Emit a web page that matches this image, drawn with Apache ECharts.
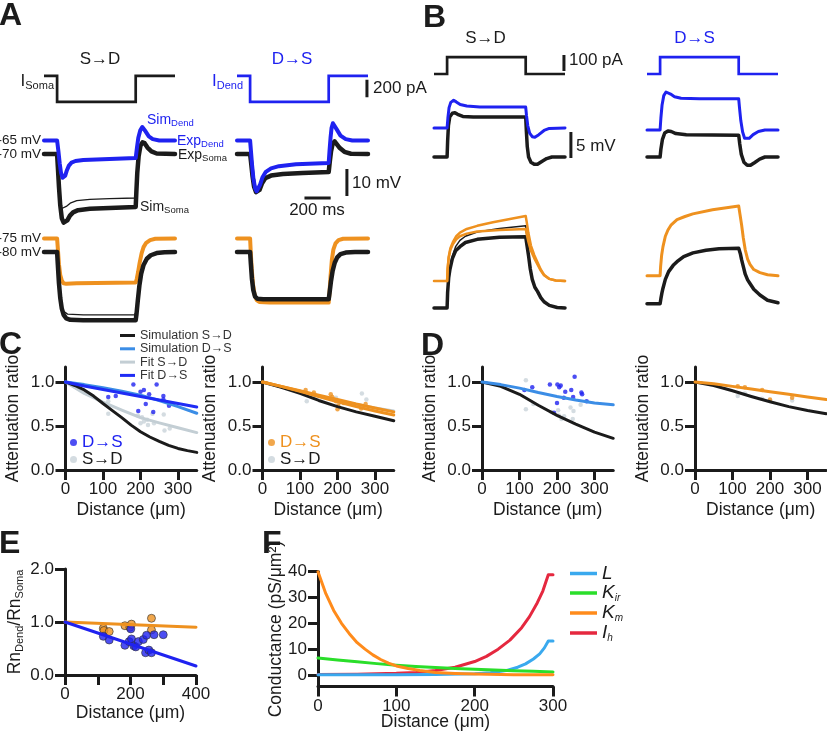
<!DOCTYPE html>
<html><head><meta charset="utf-8">
<script src="https://cdn.jsdelivr.net/npm/echarts@6/dist/echarts.min.js"></script>
<style>html,body{margin:0;padding:0;background:#fff}#c{width:827px;height:736px}</style>
</head><body><div id="c"></div>
<script>
const FONT = "'Liberation Sans', Arial, Helvetica, sans-serif";
const BLK='#1b1b1b', BLUE='#1f22f0', ORANGE='#ee911f', LBLUE='#3b8de6', LGRAY='#c3ced4', GDOT='#c9d3d9', FITBLUE='#1f2cf5';
const FL='#3aa9ee', FKIR='#2ade2a', FKM='#ff8b1b', FIH='#e5283f';

// ---------- Panel A (time ms, current pA, voltage mV)
const aCurrentStep = [[0,0],[100,0],[100,-300],[700,-300],[700,0],[1000,0]];
const aSD_expDend = [[0,-65],[100,-65],[110,-69],[120,-73.5],[130,-77],[142,-78.8],[152,-79],[162,-78],[175,-76],[190,-74.3],[210,-73.2],[240,-72.6],[300,-72.2],[400,-72],[550,-71.8],[700,-71.5],[710,-67.5],[720,-64],[735,-61.2],[750,-60],[760,-60.2],[775,-61.6],[800,-63.5],[830,-64.5],[880,-65],[1000,-65]];
const aSD_expSoma = [[0,-70],[100,-70],[106,-75],[114,-82],[124,-89],[136,-93.8],[150,-95.4],[162,-95.6],[178,-94.6],[198,-92.8],[222,-91.6],[260,-90.8],[350,-90.3],[500,-90],[700,-89.6],[705,-84],[712,-77],[722,-71],[736,-67],[752,-65.7],[768,-66],[790,-67.6],[820,-69],[860,-69.8],[1000,-70]];
const aSD_simSoma = [[100,-70],[106,-75],[114,-82],[124,-87.5],[136,-90.2],[150,-90.4],[170,-89.4],[200,-88.2],[250,-87.3],[350,-86.8],[500,-86.5],[700,-86.3],[705,-82],[712,-76.5]];
const aDS_expDend = [[0,-65],[100,-65],[105,-68],[115,-74],[125,-79],[138,-82.6],[150,-83.8],[160,-83.6],[175,-81.5],[195,-78.6],[220,-76.6],[260,-75.3],[320,-74.5],[450,-73.8],[700,-73.3],[706,-69],[714,-64],[722,-60.3],[732,-58.6],[745,-59],[760,-60.8],[790,-63.2],[830,-64.5],[880,-65],[1000,-65]];
const aDS_expSoma = [[0,-70],[100,-70],[106,-72.5],[118,-78],[130,-82],[145,-84.1],[158,-84.4],[172,-83.3],[190,-81],[215,-79],[260,-78],[350,-77.4],[500,-77],[700,-76.7],[708,-73],[718,-69],[730,-66.2],[745,-65.3],[760,-66],[785,-67.8],[820,-69.2],[870,-69.9],[1000,-70]];
const aSD_lowDend = [[0,-75],[100,-75],[106,-79],[114,-84.5],[124,-88.5],[136,-90.6],[150,-91.6],[170,-91.8],[250,-91.6],[400,-91.5],[700,-91.3],[708,-90],[718,-87.5],[730,-84],[745,-80.5],[760,-78.2],[780,-76.6],[810,-75.6],[850,-75.1],[1000,-75]];
const aSD_lowSoma = [[0,-80],[100,-80],[106,-85],[114,-91.5],[124,-97],[136,-101],[150,-103.3],[170,-104.6],[200,-105.1],[300,-105.3],[700,-105.3],[706,-103],[716,-98],[728,-92.5],[742,-88],[760,-84.8],[785,-82.5],[815,-81.2],[860,-80.4],[920,-80.1],[1000,-80]];
const aSD_lowSim = [[100,-80],[106,-85],[114,-91.5],[124,-96.6],[136,-100],[150,-102],[180,-103],[300,-103.3],[700,-103.3],[706,-101],[714,-97]];
const aDS_lowDend = [[0,-75],[100,-75],[105,-80],[112,-86],[122,-92],[135,-96],[150,-97.8],[170,-98.5],[250,-98.7],[700,-98.7],[706,-95],[714,-89],[724,-83],[736,-79],[752,-76.8],[775,-75.6],[810,-75.1],[1000,-75]];
const aDS_lowSoma = [[0,-80],[100,-80],[106,-84.5],[114,-90],[124,-94],[138,-96.5],[155,-97.3],[200,-97.5],[700,-97.5],[707,-95],[717,-91],[730,-87],[746,-84],[765,-82],[790,-80.8],[830,-80.2],[900,-80],[1000,-80]];
const aBar200pA = [[992,-45],[992,-245]];
const aBar10mV = [[839,-75.6],[839,-85.6]];
const aBar200ms = [[515,-86.3],[715,-86.3]];

// ---------- Panel B (time ms, current pA, relative voltage mV)
const bCurrentStep = [[0,0],[100,0],[100,105],[700,105],[700,0],[1000,0]];
const bSD_upDend = [[0,5.6],[100,5.6],[106,7.5],[115,9.5],[128,10.5],[150,10.9],[170,10.6],[200,10.1],[250,9.8],[350,9.6],[700,9.6],[706,8],[716,6],[730,4.6],[750,3.9],[770,3.8],[800,4.3],[840,5.1],[880,5.5],[1000,5.6]];
const bSD_upSoma = [[0,0],[100,0],[104,3],[110,6],[120,7.7],[140,8.4],[160,8.5],[180,8.2],[220,7.8],[300,7.7],[700,7.7],[705,5],[712,2],[722,0],[740,-1],[765,-1.4],[790,-1.4],[820,-0.9],[860,-0.3],[900,0],[1000,0]];
const bDS_upDend = [[0,5.2],[100,5.2],[106,7.5],[115,10],[128,11.8],[145,12.5],[160,12.5],[180,12.1],[210,11.6],[260,11.3],[400,11.2],[700,11.2],[706,9.5],[716,7],[730,4.8],[745,3.6],[760,3.3],[780,3.6],[810,4.3],[850,4.9],[900,5.2],[1000,5.2]];
const bDS_upSoma = [[0,0],[100,0],[106,1.5],[118,3.4],[135,4.6],[160,5],[185,4.9],[220,4.5],[300,4.3],[700,4.2],[708,2.5],[720,0.5],[740,-1],[765,-1.6],[790,-1.6],[820,-1.1],[860,-0.4],[900,0],[1000,0]];
const bSD_lowDendA = [[0,5.2],[100,5.2],[104,7.5],[112,9.8],[125,11.5],[145,12.7],[170,13.8],[198,14.5],[250,15.2],[330,15.8],[450,16.5],[580,17.1],[700,17.7],[708,16.5],[720,14.5],[740,12],[765,10.2],[790,8.8],[815,7.4],[840,6.4],[880,5.6],[930,5.3],[1000,5.2]];
const bSD_lowDendB = [[100,5.2],[104,7.5],[112,9.6],[125,11.2],[145,12.3],[170,13.2],[198,13.8],[250,14.3],[330,14.7],[500,15],[700,15.2],[708,14.2],[720,12.8],[740,11],[765,9.6],[790,8.4],[815,7.2],[840,6.3],[880,5.6],[930,5.3],[1000,5.2]];
const bSD_lowSoma = [[0,0],[100,0],[104,3],[112,5.8],[122,7.5],[140,9.5],[165,11],[198,11.8],[240,12.6],[330,13.2],[500,13.6],[700,13.7],[710,12],[722,10],[735,7.5],[750,5.5],[770,4],[790,3.2],[815,2],[840,1.2],[880,0.5],[940,0.1],[1000,0]];
const bSD_lowSim = [[100,0],[104,3],[112,5.9],[122,7.8],[140,10],[165,11.8],[198,13],[240,13.8],[330,14.6],[500,15.3],[700,15.8],[710,13.5],[722,11]];
const bDS_lowDend = [[0,6.2],[100,6.2],[104,8],[112,10.2],[122,11.8],[140,13.8],[160,15],[185,16],[229,17],[290,17.6],[350,18.1],[500,18.9],[700,19.6],[710,18],[722,16],[735,13.5],[750,11.2],[768,9.4],[786,8.4],[815,7.4],[862,6.8],[920,6.4],[1000,6.2]];
const bDS_lowSoma = [[0,0.8],[100,0.8],[106,1.8],[114,2.9],[122,3.8],[140,5.5],[165,7],[200,8.2],[229,8.9],[280,9.9],[351,10.6],[450,11.1],[550,11.4],[700,11.5],[712,10.5],[722,9.3],[733,8.2],[750,6.5],[768,5.4],[786,4.7],[815,3.6],[862,2.5],[920,1.5],[1000,1]];
const bBar100pA = [[992,19],[992,119]];
const bBar5mV = [[1045,-0.2],[1045,4.8]];

// ---------- Panel C (distance µm, attenuation ratio)
const cL_simSD = [[0,1],[25,0.96],[50,0.91],[75,0.84],[100,0.755],[125,0.675],[150,0.595],[175,0.51],[200,0.435],[225,0.375],[250,0.325],[275,0.28],[300,0.245],[325,0.22],[350,0.2]];
const cL_fitSD = [[0,1],[50,0.87],[100,0.77],[150,0.68],[200,0.595],[250,0.535],[300,0.48],[350,0.425]];
const cL_simDS = [[0,1],[50,0.97],[100,0.935],[150,0.895],[200,0.85],[250,0.79],[300,0.72],[350,0.645]];
const cL_fitDS = [[0,1],[50,0.955],[100,0.915],[150,0.875],[200,0.835],[250,0.795],[300,0.755],[350,0.715]];
const cL_dotsDS = [[114,0.83],[134,0.84],[181,0.97],[194,0.67],[200,0.89],[209,0.91],[223,0.86],[214,0.75],[234,0.66],[243,0.97],[261,0.84],[261,0.8],[276,0.73]];
const cL_dotsSD = [[114,0.78],[114,0.64],[193,0.62],[200,0.53],[204,0.6],[209,0.55],[218,0.57],[220,0.51],[232,0.64],[236,0.53],[262,0.63],[264,0.45],[278,0.47]];
const cR_simSD = [[0,1],[50,0.94],[100,0.87],[150,0.79],[200,0.72],[250,0.66],[300,0.61],[350,0.56]];
const cR_fitSD = [[0,1],[50,0.945],[100,0.89],[150,0.84],[200,0.79],[250,0.745],[300,0.705],[350,0.67]];
const cR_simDS = [[0,1],[50,0.95],[100,0.895],[150,0.835],[200,0.775],[250,0.72],[300,0.67],[350,0.625]];
const cR_fitDS = [[0,1],[50,0.95],[100,0.9],[150,0.85],[200,0.8],[250,0.75],[300,0.705],[350,0.66]];
const cR_dotsDS = [[115,0.91],[137,0.88],[182,0.86],[186,0.83],[196,0.78],[200,0.69],[202,0.73],[217,0.76],[263,0.7],[275,0.75]];
const cR_dotsSD = [[118,0.78],[138,0.84],[196,0.82],[204,0.76],[218,0.76],[265,0.87],[277,0.8],[262,0.73]];

// ---------- Panel D
const dL_simDS = [[0,1],[50,0.97],[100,0.93],[150,0.88],[200,0.835],[250,0.795],[300,0.76],[350,0.74]];
const dL_simSD = [[0,1],[50,0.95],[100,0.86],[150,0.735],[200,0.62],[250,0.52],[300,0.43],[350,0.36]];
const dL_dotsDS = [[113,0.91],[134,0.94],[181,0.97],[201,0.97],[206,0.94],[210,0.96],[222,0.89],[238,0.91],[247,1.06],[243,0.83],[265,0.88],[267,0.86],[279,0.78],[218,0.82],[200,0.76],[192,0.65]];
const dL_dotsSD = [[117,1.02],[117,0.69],[137,0.75],[185,0.66],[203,0.68],[212,0.58],[219,0.61],[236,0.71],[244,0.67],[242,0.58],[263,0.74],[205,0.62]];
const dR_simDS = [[0,1],[50,0.98],[100,0.95],[150,0.92],[200,0.89],[250,0.86],[300,0.83],[350,0.8]];
const dR_simSD = [[0,1],[50,0.96],[100,0.9],[150,0.835],[200,0.775],[250,0.72],[300,0.675],[350,0.64]];
const dR_dotsDS = [[114,0.95],[133,0.94],[179,0.91],[200,0.8],[259,0.82]];
const dR_dotsSD = [[114,0.84],[133,0.87],[179,0.81],[200,0.79],[259,0.79]];

// ---------- Panel E (distance µm, Rn ratio)
const eFitOrange = [[0,1],[400,0.9]];
const eFitBlue = [[0,1],[400,0.17]];
const eDotsOrange = [[117,0.88],[119,0.84],[135,0.82],[183,0.93],[198,0.9],[203,0.96],[264,1.07],[264,0.85]];
const eDotsBlue = [[117,0.73],[135,0.66],[183,0.56],[196,0.63],[201,0.87],[203,0.68],[210,0.55],[216,0.53],[224,0.63],[239,0.67],[246,0.42],[249,0.75],[256,0.47],[264,0.42],[272,0.76],[300,0.76]];

// ---------- Panel F (distance µm, conductance pS/µm²)
const fL = [[0,0.05],[100,0.1],[150,0.2],[180,0.35],[200,0.5],[220,0.9],[240,1.7],[255,3],[265,4.3],[275,6.2],[283,8.2],[289,10.5],[294,13.2],[300,13.2]];
const fKir = [[0,6.6],[25,5.8],[50,5.1],[75,4.4],[100,3.8],[125,3.3],[150,2.9],[175,2.5],[200,2.2],[225,1.9],[250,1.6],[275,1.4],[300,1.2]];
const fKm = [[0,40],[10,31.5],[20,25],[30,20],[40,16],[50,12.5],[60,10],[70,7.8],[80,6],[90,4.6],[100,3.5],[115,2.5],[130,1.7],[150,1],[175,0.6],[200,0.35],[250,0.12],[300,0.05]];
const fIh = [[0,0.15],[50,0.3],[100,0.65],[125,1],[150,1.7],[175,3],[200,5.2],[215,7.2],[230,10],[245,13.5],[260,18.3],[270,22.6],[280,28],[287,32.5],[294,38.8],[300,38.8]];

// ---------- tick labels
const attTicks = [0,0.5,1.0];
const distTicks350 = [0,100,200,300];
const eXTicks = [0,100,200,300,400], eXLabels = [0,200,400], eYTicks = [0,1,2];
const fXTicks = [0,100,200,300], fYTicks = [0,10,20,30,40];

// ================= build =================
const grids=[], xAxes=[], yAxes=[], series=[];
function addGrid(box, xa, ya){
  grids.push(Object.assign({show:false, outerBoundsMode:'none', containLabel:false}, box));
  const i = grids.length-1;
  xAxes.push(Object.assign({gridIndex:i, type:'value'}, xa));
  yAxes.push(Object.assign({gridIndex:i, type:'value'}, ya));
  return i;
}
function hid(min,max){ return {min, max, show:false, splitLine:{show:false}}; }
function vis(min,max,ticks,labels,fmt,extra){
  return Object.assign({
    min, max, show:true,
    axisLine:{show:true, onZero:false, lineStyle:{color:BLK, width:3}},
    axisTick:{show:true, length:10, customValues:ticks, lineStyle:{color:BLK, width:3}},
    axisLabel:{show:true, customValues:labels, formatter:fmt, color:BLK, fontSize:17, fontFamily:FONT, margin:11},
    splitLine:{show:false}, nameLocation:'middle', nameMoveOverlap:false,
    nameTextStyle:{color:BLK, fontSize:17.5, fontFamily:FONT}
  }, extra||{});
}
function line(gi, data, color, width, extra){
  series.push(Object.assign({type:'line', xAxisIndex:gi, yAxisIndex:gi, data, showSymbol:false, symbol:'none',
    silent:true, lineStyle:{color, width, join:'round', cap:'round'}, itemStyle:{color}}, extra||{}));
}
function dots(gi, data, color, size, extra){
  series.push(Object.assign({type:'scatter', xAxisIndex:gi, yAxisIndex:gi, data, symbolSize:size, silent:true,
    itemStyle:{color}}, extra||{}));
}

// Panel A grids
const aSDx = {left:44, width:131}, aDSx = {left:237, width:131};
const aCurSD = addGrid(Object.assign({top:67.3, height:43.3}, aSDx), hid(0,1000), hid(-400,100));
const aCurDS = addGrid(Object.assign({top:67.3, height:43.3}, aDSx), hid(0,1000), hid(-400,100));
const aUpSD = addGrid(Object.assign({top:113.5, height:121.5}, aSDx), hid(0,1000), hid(-100,-55));
const aUpDS = addGrid(Object.assign({top:113.5, height:121.5}, aDSx), hid(0,1000), hid(-100,-55));
const aLowSD = addGrid(Object.assign({top:225, height:108}, aSDx), hid(0,1000), hid(-110,-70));
const aLowDS = addGrid(Object.assign({top:225, height:108}, aDSx), hid(0,1000), hid(-110,-70));

line(aCurSD, aCurrentStep, BLK, 2.5, {lineStyle:{color:BLK,width:2.7,join:'miter',cap:'butt'}});
line(aCurDS, aCurrentStep, BLUE, 2.5, {lineStyle:{color:BLUE,width:2.7,join:'miter',cap:'butt'}});
line(aCurDS, aBar200pA, BLK, 3, {lineStyle:{color:BLK,width:3,cap:'butt'}});
line(aUpSD, aSD_expSoma, BLK, 4.5);
line(aUpSD, aSD_simSoma, BLK, 1.3);
line(aUpSD, aSD_expDend, BLUE, 4);
line(aUpDS, aDS_expSoma, BLK, 4.5);
line(aUpDS, aDS_expDend, BLUE, 4);
line(aUpDS, aBar10mV, BLK, 3, {lineStyle:{color:BLK,width:3,cap:'butt'}});
line(aUpDS, aBar200ms, BLK, 3, {lineStyle:{color:BLK,width:3,cap:'butt'}});
line(aLowSD, aSD_lowDend, ORANGE, 4);
line(aLowSD, aSD_lowSim, BLK, 1.3);
line(aLowSD, aSD_lowSoma, BLK, 4.5);
line(aLowDS, aDS_lowDend, ORANGE, 4);
line(aLowDS, aDS_lowSoma, BLK, 4.5);

// Panel B grids
const bSDx = {left:434, width:144.1}, bDSx = {left:647, width:144.1};
const bCurSD = addGrid(Object.assign({top:50, height:32}, bSDx), hid(0,1100), hid(-50,150));
const bCurDS = addGrid(Object.assign({top:50, height:32}, bDSx), hid(0,1100), hid(-50,150));
const bUpSD = addGrid(Object.assign({top:84.2, height:93.6}, bSDx), hid(0,1100), hid(-4,14));
const bUpDS = addGrid(Object.assign({top:84.2, height:93.6}, bDSx), hid(0,1100), hid(-4,14));
const bLowSD = addGrid(Object.assign({top:198.8, height:119.6}, bSDx), hid(0,1100), hid(-2,21));
const bLowDS = addGrid(Object.assign({top:198.8, height:119.6}, bDSx), hid(0,1100), hid(-2,21));

line(bCurSD, bCurrentStep, BLK, 2.5, {lineStyle:{color:BLK,width:2.7,join:'miter',cap:'butt'}});
line(bCurDS, bCurrentStep, BLUE, 2.5, {lineStyle:{color:BLUE,width:2.7,join:'miter',cap:'butt'}});
line(bCurSD, bBar100pA, BLK, 3, {lineStyle:{color:BLK,width:3,cap:'butt'}});
line(bUpSD, bSD_upSoma, BLK, 3.5);
line(bUpSD, bSD_upDend, BLUE, 3);
line(bUpSD, bBar5mV, BLK, 3, {lineStyle:{color:BLK,width:3,cap:'butt'}});
line(bUpDS, bDS_upSoma, BLK, 3.5);
line(bUpDS, bDS_upDend, BLUE, 3);
line(bLowSD, bSD_lowSoma, BLK, 3.5);
line(bLowSD, bSD_lowSim, BLK, 1.5);
line(bLowSD, bSD_lowDendB, ORANGE, 2.5);
line(bLowSD, bSD_lowDendA, ORANGE, 2.5);
line(bLowDS, bDS_lowSoma, BLK, 3.5);
line(bLowDS, bDS_lowDend, ORANGE, 3);

// Panel C / D grids
const f1 = v => v.toFixed(1);
const fi = v => String(v);
function attGrid(left){
  return addGrid({left, top:367, width:131.25, height:103},
    vis(0,350,distTicks350,distTicks350,fi,{name:'Distance (μm)', nameGap:31}),
    vis(0,1.17,attTicks,attTicks,f1,{name:'Attenuation ratio', nameGap:43}));
}
const cL = attGrid(65.5), cR = attGrid(262.5), dL = attGrid(482), dR = attGrid(695);

line(cL, cL_fitSD, LGRAY, 3, {name:'Fit S→D'});
line(cL, cL_simSD, BLK, 3, {name:'Simulation S→D'});
line(cL, cL_simDS, LBLUE, 3, {name:'Simulation D→S'});
line(cL, cL_fitDS, FITBLUE, 3, {name:'Fit D→S'});
dots(cL, cL_dotsSD, GDOT, 4.5, {name:'S→D', z:1});
dots(cL, cL_dotsDS, BLUE, 4.5, {name:'D→S'});

line(cR, cR_fitSD, LGRAY, 3);
line(cR, cR_simSD, BLK, 3);
line(cR, cR_simDS, ORANGE, 3);
line(cR, cR_fitDS, ORANGE, 3);
dots(cR, cR_dotsSD, GDOT, 4.5, {name:'S→D ', z:1});
dots(cR, cR_dotsDS, ORANGE, 4.5, {name:'D→S '});

dots(dL, dL_dotsSD, GDOT, 4.5, {z:1});
line(dL, dL_simSD, BLK, 3);
line(dL, dL_simDS, LBLUE, 3);
dots(dL, dL_dotsDS, BLUE, 4.5);

dots(dR, dR_dotsSD, GDOT, 4.5, {z:1});
line(dR, dR_simSD, BLK, 3);
line(dR, dR_simDS, ORANGE, 3);
dots(dR, dR_dotsDS, ORANGE, 4.5);

// Panel E
const eG = addGrid({left:65, top:569, width:131, height:106},
  vis(0,400,eXTicks,eXLabels,fi,{name:'Distance (μm)', nameGap:29}),
  vis(0,2,eYTicks,eYTicks,f1,{name:'{a|Rn}{s|Dend}{a|/Rn}{s|Soma}', nameGap:40,
    nameTextStyle:{color:BLK, fontFamily:FONT, rich:{a:{fontSize:17.5, lineHeight:20, fontFamily:FONT, color:BLK}, s:{fontSize:11, lineHeight:11, verticalAlign:'bottom', fontFamily:FONT, color:BLK}}}}));
line(eG, eFitOrange, ORANGE, 3);
line(eG, eFitBlue, BLUE, 3);
dots(eG, eDotsOrange, ORANGE, 8, {itemStyle:{color:ORANGE, borderColor:'#333', borderWidth:0.8}});
dots(eG, eDotsBlue, BLUE, 8, {itemStyle:{color:BLUE, borderColor:'#333', borderWidth:0.8}});

// Panel F
const fG = addGrid({left:318, top:571.7, width:235, height:114.9},
  vis(0,300,fXTicks,fXTicks,fi,{name:'Distance (μm)', nameGap:27}),
  vis(-4.5,40,fYTicks,fYTicks,fi,{name:'Conductance (pS/μm²)', nameGap:33}));
line(fG, fIh, FIH, 3, {name:'Ih'});
line(fG, fL, FL, 3, {name:'L'});
line(fG, fKir, FKIR, 3, {name:'Kir'});
line(fG, fKm, FKM, 3, {name:'Km'});

// ---------- annotations
function T(x, y, text, o){
  return {type:'text', x, y, silent:true, z:100,
    style:Object.assign({text, fill:BLK, fontSize:17, fontFamily:FONT, align:'left', verticalAlign:'middle'}, o||{})};
}
function sub(main, s, color, fs, ss){
  return {text:'{m|'+main+'}{s|'+s+'}', rich:{
    m:{fontSize:fs, lineHeight:fs+3, fontFamily:FONT, fill:color},
    s:{fontSize:ss, lineHeight:ss, verticalAlign:'bottom', fontFamily:FONT, fill:color}}};
}
const bold = {fontSize:32, fontWeight:'bold', fill:'#1c1c1c'};
const elements = [
  T(-1,16.5,'A',bold), T(423,18,'B',bold), T(-1,345,'C',bold), T(421,346,'D',bold), T(-1,544,'E',bold), T(262,544,'F',bold),
  T(100,59,'S→D',{align:'center'}), T(292,59,'D→S',{align:'center', fill:BLUE}),
  T(54,81,'',Object.assign({align:'right'}, sub('I','Soma',BLK,17,11))),
  T(243,81,'',Object.assign({align:'right'}, sub('I','Dend',BLUE,17,11))),
  T(373,88,'200 pA'),
  T(41,140.5,'-65 mV',{align:'right', fontSize:13.5}), T(41,154,'-70 mV',{align:'right', fontSize:13.5}),
  T(41,238.5,'-75 mV',{align:'right', fontSize:13.5}), T(41,252,'-80 mV',{align:'right', fontSize:13.5}),
  T(147,120,'',sub('Sim','Dend',BLUE,14,9.5)),
  T(177,141,'',sub('Exp','Dend',BLUE,14,9.5)),
  T(178,155,'',sub('Exp','Soma',BLK,14,9.5)),
  T(140,207,'',sub('Sim','Soma',BLK,14,9.5)),
  T(352,183,'10 mV'), T(317,210,'200 ms',{align:'center'}),
  T(485.5,38.5,'S→D',{align:'center'}), T(694.5,38.5,'D→S',{align:'center', fill:BLUE}),
  T(569,60,'100 pA'), T(576,146,'5 mV')
];

const legendBase = {orient:'vertical', padding:0, selectedMode:false, itemGap:0};
const option = {
  animation:false,
  backgroundColor:'#fff',
  textStyle:{fontFamily:FONT},
  grid:grids, xAxis:xAxes, yAxis:yAxes, series,
  legend:[
    Object.assign({}, legendBase, {left:120, top:329, icon:'rect', itemWidth:15, itemHeight:3, itemGap:0.3,
      textStyle:{fontSize:12.5, lineHeight:12, color:'#333', fontFamily:FONT},
      data:['Simulation S→D','Simulation D→S','Fit S→D','Fit D→S']}),
    Object.assign({}, legendBase, {left:70, top:434, icon:'circle', itemWidth:7, itemHeight:7,
      textStyle:{fontSize:17, lineHeight:16, fontFamily:FONT}, formatter:n=>n.trim(),
      data:[{name:'D→S', textStyle:{color:BLUE}}, {name:'S→D', textStyle:{color:BLK}}]}),
    Object.assign({}, legendBase, {left:268, top:434, icon:'circle', itemWidth:7, itemHeight:7,
      textStyle:{fontSize:17, lineHeight:16, fontFamily:FONT}, formatter:n=>n.trim(),
      data:[{name:'D→S ', textStyle:{color:ORANGE}}, {name:'S→D ', textStyle:{color:BLK}}]}),
    Object.assign({}, legendBase, {left:570, top:564, icon:'rect', itemWidth:27, itemHeight:3.5, itemGap:0.5,
      formatter:n=>({L:'{i|L}', Kir:'{i|K}{s|ir}', Km:'{i|K}{s|m}', Ih:'{i|I}{s|h}'})[n],
      textStyle:{color:BLK, fontFamily:FONT, rich:{
        i:{fontSize:19, fontStyle:'italic', lineHeight:20, fontFamily:FONT, color:BLK},
        s:{fontSize:10, fontStyle:'italic', lineHeight:8, verticalAlign:'bottom', fontFamily:FONT, color:BLK}}},
      data:['L','Kir','Km','Ih']})
  ],
  graphic:{elements}
};
const chart = echarts.init(document.getElementById('c'), null, {renderer:'canvas', width:827, height:736});
chart.setOption(option);
</script></body></html>
